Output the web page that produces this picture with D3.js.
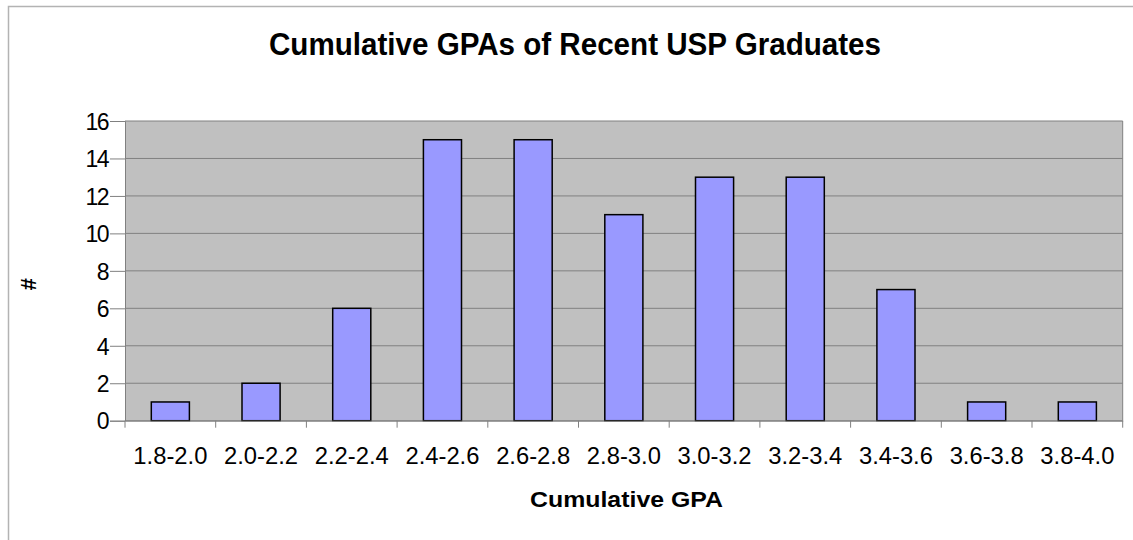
<!DOCTYPE html>
<html><head><meta charset="utf-8">
<script src="https://cdn.jsdelivr.net/npm/d3@7"></script>
<style>body{margin:0;background:#fff}svg{display:block}text{font-family:"Liberation Sans",Arial,sans-serif;fill:#000}</style>
</head><body><svg id="c" width="1133" height="540"></svg>
<script>
const categories = ["1.8-2.0","2.0-2.2","2.2-2.4","2.4-2.6","2.6-2.8","2.8-3.0","3.0-3.2","3.2-3.4","3.4-3.6","3.6-3.8","3.8-4.0"];
const counts = [1,2,6,15,15,11,13,13,7,1,1];
const yTicks = [0,2,4,6,8,10,12,14,16];
const titleText = "Cumulative GPAs of Recent USP Graduates";
const xTitle = "Cumulative GPA";
const yTitle = "#";

const svg = d3.select("#c");
const L = 125, R = 1122.7, T = 121, B = 420.7;
svg.append("path").attr("d", `M8.5,545 V6.5 H1140`).attr("fill","none").attr("stroke","#b3b3b3").attr("stroke-width",1.5);

const x = d3.scaleBand().domain(categories).range([L,R]).padding(0);
const y = d3.scaleLinear().domain([0,16]).range([B,T]);

svg.append("rect").attr("x",L).attr("y",T).attr("width",R-L).attr("height",B-T).attr("fill","#c0c0c0");
svg.append("g").selectAll("line").data(yTicks).join("line")
  .attr("x1",L).attr("x2",R).attr("y1",d=>y(d)).attr("y2",d=>y(d))
  .attr("stroke","#808080").attr("stroke-width",1);
svg.append("line").attr("x1",R).attr("x2",R).attr("y1",T).attr("y2",B).attr("stroke","#808080");

const bw = x.bandwidth()*0.42;
svg.append("g").selectAll("rect").data(counts).join("rect")
  .attr("x",(d,i)=>x(categories[i])+x.bandwidth()/2-bw/2)
  .attr("y",d=>y(d)).attr("width",bw).attr("height",d=>B-y(d))
  .attr("fill","#9999ff").attr("stroke","#000").attr("stroke-width",1.5);

const ya = svg.append("g").attr("transform",`translate(${L},0)`)
  .call(d3.axisLeft(y).tickValues(yTicks).tickSize(15).tickPadding(2).tickFormat(d3.format("d")));
ya.select(".domain").attr("stroke","#808080");
ya.selectAll(".tick line").attr("stroke","#808080");
ya.selectAll(".tick text").style("font-size","23px").attr("dy","0.36em").attr("letter-spacing","-1.5px");

const xa = svg.append("g").attr("transform",`translate(0,${B})`)
  .call(d3.axisBottom(x).tickSize(0).tickPadding(27));
xa.select(".domain").attr("stroke","#808080");
xa.selectAll(".tick text").style("font-size","23px").attr("textLength",74).attr("lengthAdjust","spacingAndGlyphs");
const bounds = categories.map(c=>x(c)).concat([R]);
svg.append("g").selectAll("line").data(bounds).join("line")
  .attr("x1",d=>d).attr("x2",d=>d).attr("y1",B).attr("y2",B+7).attr("stroke","#808080");

svg.append("text").attr("x",575).attr("y",55).attr("text-anchor","middle")
  .style("font-size","32px").attr("font-weight","bold").attr("textLength",612).attr("lengthAdjust","spacingAndGlyphs").text(titleText);
svg.append("text").attr("x",626.5).attr("y",507).attr("text-anchor","middle")
  .style("font-size","22px").attr("font-weight","bold").attr("textLength",193).attr("lengthAdjust","spacingAndGlyphs").text(xTitle);
svg.append("text").attr("transform","translate(36,284) rotate(-90)").attr("text-anchor","middle")
  .style("font-size","22px").attr("font-weight","bold").text(yTitle);
</script></body></html>
